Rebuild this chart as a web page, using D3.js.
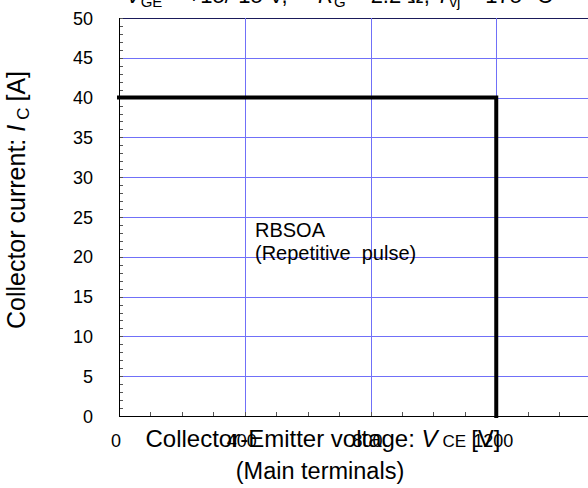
<!DOCTYPE html>
<html>
<head>
<meta charset="utf-8">
<script src="https://cdn.jsdelivr.net/npm/d3@7"></script>
<style>
  body { margin: 0; background: #fff; }
  svg { display: block; font-family: Arial, "Liberation Sans", sans-serif; }
</style>
</head>
<body>
<svg width="588" height="488"></svg>
<script>
// chart data
var xDomain = [0, 1600];
var yDomain = [0, 50];
var xTicks = [0, 400, 800, 1200, 1600];
var yTicks = [0, 5, 10, 15, 20, 25, 30, 35, 40, 45, 50];
var xMinorStep = 100;
var yMinorStep = 1;
// RBSOA boundary (V, A)
var rbsoaV = [0, 1200, 1200];
var rbsoaI = [40, 40, 0];

var svg = d3.select("svg");
var svgW = 588;
var plotLeft = 119, plotTop = 18, plotW = 503, plotH = 398;

var x = d3.scaleLinear().domain(xDomain).range([plotLeft, plotLeft + plotW]);
var y = d3.scaleLinear().domain(yDomain).range([plotTop + plotH, plotTop]);

var gridColor = "#7070f8";

// grid
svg.append("g").selectAll("line")
  .data(yTicks.slice(1))
  .enter().append("line")
  .attr("x1", plotLeft).attr("x2", plotLeft + plotW)
  .attr("y1", function(d) { return Math.round(y(d)) + 0.5; })
  .attr("y2", function(d) { return Math.round(y(d)) + 0.5; })
  .attr("stroke", function(d) { return d == 50 ? "#1a1a5a" : gridColor; })
  .attr("stroke-width", 1);

svg.append("g").selectAll("line")
  .data(xTicks.slice(1))
  .enter().append("line")
  .attr("y1", plotTop).attr("y2", plotTop + plotH)
  .attr("x1", function(d) { return Math.round(x(d)) + 0.5; })
  .attr("x2", function(d) { return Math.round(x(d)) + 0.5; })
  .attr("stroke", gridColor)
  .attr("stroke-width", 1);

// minor ticks, pointing inward
var yMinor = d3.range(yDomain[0], yDomain[1] + 0.01, yMinorStep);
svg.append("g").selectAll("line")
  .data(yMinor)
  .enter().append("line")
  .attr("x1", plotLeft).attr("x2", plotLeft + 4)
  .attr("y1", function(d) { return Math.round(y(d)) + 0.5; })
  .attr("y2", function(d) { return Math.round(y(d)) + 0.5; })
  .attr("stroke", "#555");

var xMinor = d3.range(xDomain[0], xDomain[1] + 0.01, xMinorStep);
svg.append("g").selectAll("line")
  .data(xMinor)
  .enter().append("line")
  .attr("y1", plotTop + plotH).attr("y2", plotTop + plotH - 4)
  .attr("x1", function(d) { return Math.round(x(d)) + 0.5; })
  .attr("x2", function(d) { return Math.round(x(d)) + 0.5; })
  .attr("stroke", "#555");

// axes lines
svg.append("line")
  .attr("x1", plotLeft + 0.5).attr("x2", plotLeft + 0.5)
  .attr("y1", plotTop).attr("y2", plotTop + plotH + 0.5)
  .attr("stroke", "#000");
svg.append("line")
  .attr("x1", plotLeft).attr("x2", plotLeft + plotW)
  .attr("y1", plotTop + plotH + 0.5).attr("y2", plotTop + plotH + 0.5)
  .attr("stroke", "#000");

// tick labels
svg.append("g").selectAll("text")
  .data(yTicks)
  .enter().append("text")
  .attr("x", 93)
  .attr("y", function(d) { return y(d) + 6.5; })
  .attr("text-anchor", "end")
  .attr("font-size", 18)
  .text(function(d) { return d; });

// the 1600 label falls outside the cropped picture
svg.append("g").selectAll("text")
  .data(xTicks.filter(function(d) { return x(d) < svgW - 20; }))
  .enter().append("text")
  .attr("x", function(d) { return x(d) - 3; })
  .attr("y", 447)
  .attr("text-anchor", "middle")
  .attr("font-size", 18)
  .text(function(d) { return d; });

// RBSOA boundary
var line = d3.line()
  .x(function(d) { return x(d[0]); })
  .y(function(d) { return y(d[1]); });
svg.append("path")
  .datum(d3.zip(rbsoaV, rbsoaI))
  .attr("d", line)
  .attr("fill", "none")
  .attr("stroke", "#000")
  .attr("stroke-width", 4)
  .attr("stroke-linecap", "square")
  .attr("stroke-linejoin", "miter");

// annotation
svg.append("text").attr("x", 255).attr("y", 237)
  .attr("font-size", 20).text("RBSOA");
svg.append("text").attr("x", 255).attr("y", 260)
  .attr("font-size", 20).attr("xml:space", "preserve").text("(Repetitive  pulse)");

// axis titles
var xt = svg.append("text")
  .attr("x", 323).attr("y", 447)
  .attr("text-anchor", "middle")
  .attr("font-size", 24);
xt.append("tspan").text("Collector-Emitter voltage: ");
xt.append("tspan").attr("font-style", "italic").text("V");
xt.append("tspan").attr("font-size", 17).attr("dx", 5).text("CE");
xt.append("tspan").attr("dx", 5).text("[V]");

svg.append("text")
  .attr("x", 320).attr("y", 479)
  .attr("text-anchor", "middle")
  .attr("font-size", 23.5)
  .text("(Main terminals)");

var yt = svg.append("text")
  .attr("transform", "translate(25,200) rotate(-90)")
  .attr("text-anchor", "middle")
  .attr("font-size", 25);
yt.append("tspan").text("Collector current: ");
yt.append("tspan").attr("font-style", "italic").text("I");
yt.append("tspan").attr("font-size", 17).attr("dx", 5).attr("dy", 4).text("C");
yt.append("tspan").attr("dx", 6).attr("dy", -4).text("[A]");

// test conditions title, mostly cut off at the top edge
function titlePart(px, sym, sub, rest) {
  var t = svg.append("text")
    .attr("x", px).attr("y", 3)
    .attr("font-size", 22)
    .attr("xml:space", "preserve");
  t.append("tspan").attr("font-style", "italic").text(sym);
  t.append("tspan").attr("font-size", 15).attr("dy", 4).text(sub);
  t.append("tspan").attr("dy", -4).text(rest);
}
titlePart(126, "V", "GE", " = +15/-15 V,");
titlePart(318, "R", "G", " = 2.2 Ω,");
titlePart(436, "T", "vj", " = 175 °C");
</script>
</body>
</html>
